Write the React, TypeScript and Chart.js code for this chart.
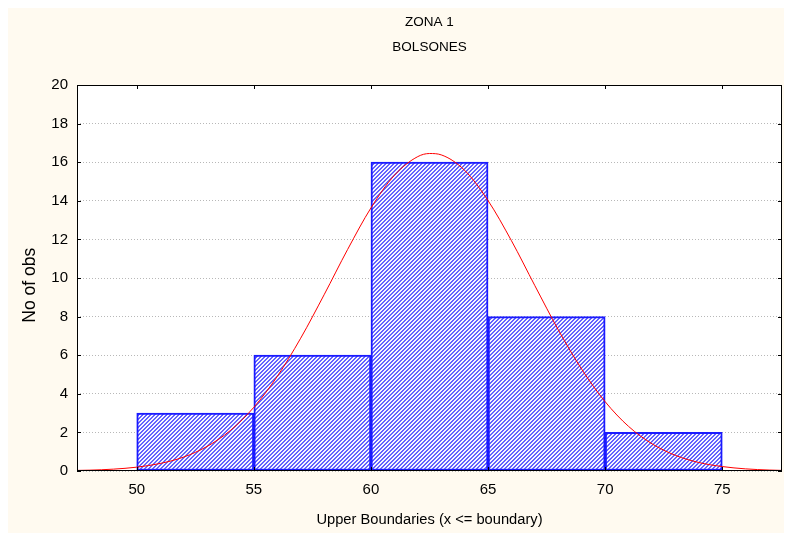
import React, { useEffect, useRef } from 'react';
import { Chart, registerables } from 'chart.js';

Chart.register(...registerables);

const titleLines = ['ZONA 1', 'BOLSONES'];
const xAxisTitle = 'Upper Boundaries (x <= boundary)';
const yAxisTitle = 'No of obs   ';

const binCenters = [52.5, 57.5, 62.5, 67.5, 72.5];
const binCounts = [3, 6, 16, 8, 2];

const curveX = [47, 48, 49, 50, 51, 52, 53, 54, 55, 56, 57, 58, 59, 60, 61, 62, 62.5, 63, 64, 65, 66, 67, 68, 69, 70, 71, 72, 73, 74, 75, 76, 77, 77.6];
const curveY = [0.019, 0.044, 0.096, 0.199, 0.39, 0.72, 1.27, 2.1, 3.3, 4.9, 6.88, 9.13, 11.47, 13.63, 15.32, 16.29, 16.45, 16.38, 15.58, 14.01, 11.93, 9.6, 7.31, 5.27, 3.59, 2.31, 1.41, 0.81, 0.44, 0.23, 0.11, 0.05, 0.03];

const xTicks = [50, 55, 60, 65, 70, 75];
const yTicks = [0, 2, 4, 6, 8, 10, 12, 14, 16, 18, 20];

const FONT = "'Liberation Sans', Arial, sans-serif";

function makePattern(): CanvasPattern | string {
  const c = document.createElement('canvas');
  c.width = 4;
  c.height = 4;
  const g = c.getContext('2d');
  if (!g) return '#a8a8ff';
  for (let x = 0; x < 4; x++) {
    for (let y = 0; y < 4; y++) {
      g.fillStyle = (x + y) % 4 < 2 ? '#6262ff' : '#f6f6ff';
      g.fillRect(x, y, 1, 1);
    }
  }
  const p = g.createPattern(c, 'repeat');
  return p || '#a8a8ff';
}

const bgPlugin = {
  id: 'bgPlugin',
  beforeDraw(chart: any) {
    const { ctx, chartArea } = chart;
    ctx.save();
    ctx.fillStyle = '#FFFAF0';
    ctx.fillRect(0, 0, chart.width, chart.height);
    ctx.fillStyle = '#FFFFFF';
    ctx.fillRect(chartArea.left, chartArea.top, chartArea.right - chartArea.left, chartArea.bottom - chartArea.top);
    ctx.restore();
  },
};

const framePlugin = {
  id: 'framePlugin',
  afterDatasetsDraw(chart: any) {
    const { ctx, chartArea, scales } = chart;
    const { left, right, top, bottom } = chartArea;
    ctx.save();
    ctx.strokeStyle = '#000000';
    ctx.lineWidth = 1;
    ctx.strokeRect(left + 0.5, top + 0.5, right - left - 1, bottom - top - 1);
    ctx.beginPath();
    for (const v of xTicks) {
      const px = Math.round(scales.x.getPixelForValue(v)) + 0.5;
      ctx.moveTo(px, bottom);
      ctx.lineTo(px, bottom - 4);
      ctx.moveTo(px, top);
      ctx.lineTo(px, top + 4);
    }
    for (const v of yTicks) {
      const py = Math.round(scales.y.getPixelForValue(v)) + 0.5;
      ctx.moveTo(left, py);
      ctx.lineTo(left + 4, py);
      ctx.moveTo(right, py);
      ctx.lineTo(right - 4, py);
    }
    ctx.stroke();
    ctx.restore();
  },
};

export default function App() {
  const ref = useRef<HTMLCanvasElement | null>(null);

  useEffect(() => {
    if (!ref.current) return;
    const pattern = makePattern();
    const chart = new Chart(ref.current, {
      type: 'bar',
      data: {
        datasets: [
          {
            type: 'line',
            data: curveX.map((x, i) => ({ x, y: curveY[i] })),
            borderColor: '#ff0000',
            borderWidth: 1,
            pointRadius: 0,
            fill: false,
            cubicInterpolationMode: 'monotone',
            order: 0,
          } as any,
          {
            type: 'bar',
            data: binCenters.map((x, i) => ({ x, y: binCounts[i] })),
            backgroundColor: pattern as any,
            borderColor: '#1a1aff',
            borderWidth: 2,
            borderSkipped: false,
            barPercentage: 1,
            categoryPercentage: 1,
            order: 1,
          } as any,
        ],
      },
      options: {
        responsive: false,
        animation: false,
        devicePixelRatio: 1,
        layout: { padding: { left: 0, right: 10, top: 0, bottom: 0 } },
        plugins: {
          legend: { display: false },
          tooltip: { enabled: false },
          title: {
            display: true,
            text: titleLines,
            fullSize: false,
            color: '#000000',
            font: { family: FONT, size: 13.5, weight: 'normal', lineHeight: '25px' } as any,
            padding: { top: 1.5, bottom: 25.5 },
          },
        },
        scales: {
          x: {
            type: 'linear',
            min: 47.45,
            max: 77.55,
            offset: false,
            afterBuildTicks: (s: any) => {
              s.ticks = xTicks.map((v) => ({ value: v }));
            },
            afterFit: (s: any) => {
              s.height = 62;
            },
            ticks: {
              autoSkip: false,
              maxRotation: 0,
              padding: 10,
              color: '#000000',
              font: { family: FONT, size: 15 },
              callback: (v: any) => String(v),
            },
            grid: { display: false, drawTicks: false, offset: false },
            border: { display: false },
            title: {
              display: true,
              text: xAxisTitle,
              color: '#000000',
              font: { family: FONT, size: 14.7 },
              padding: { top: 0, bottom: 4.2 },
            },
          } as any,
          y: {
            type: 'linear',
            min: 0,
            max: 20,
            afterBuildTicks: (s: any) => {
              s.ticks = yTicks.map((v) => ({ value: v }));
            },
            afterFit: (s: any) => {
              s.width = 69;
            },
            ticks: {
              padding: 9,
              color: '#000000',
              font: { family: FONT, size: 15 },
              callback: (v: any) => String(v),
            },
            grid: { color: '#b8b8b8', drawTicks: false, lineWidth: 1 },
            border: { display: false, dash: [1, 2] },
            title: {
              display: true,
              text: yAxisTitle,
              color: '#000000',
              font: { family: FONT, size: 17.5 },
              padding: { top: 11.5, bottom: 0 },
            },
          } as any,
        },
      },
      plugins: [bgPlugin, framePlugin],
    } as any);
    return () => chart.destroy();
  }, []);

  return <canvas ref={ref} width={784} height={525} style={{ display: 'block' }} />;
}
